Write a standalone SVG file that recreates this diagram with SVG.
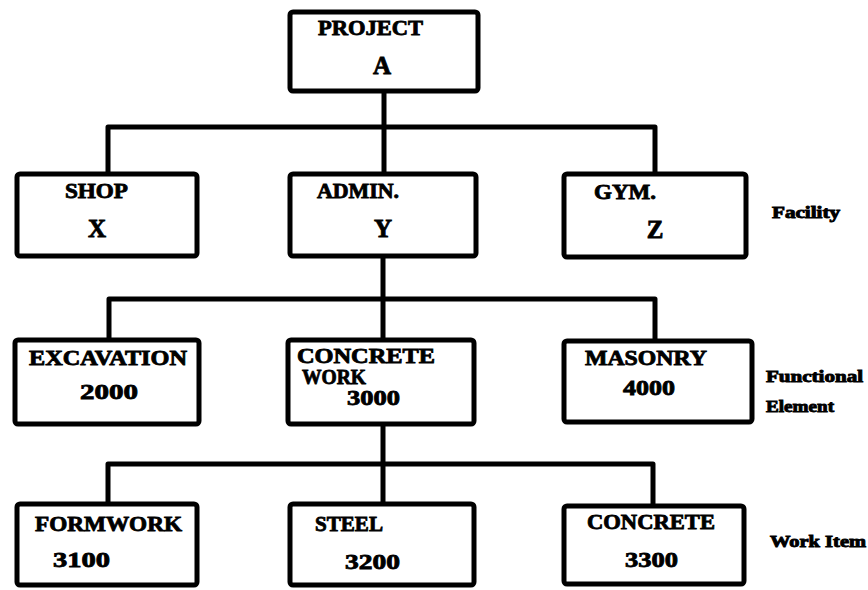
<svg xmlns="http://www.w3.org/2000/svg" width="868" height="590" viewBox="0 0 868 590">
<style>
.box{fill:#fff;stroke:#000;stroke-width:5;stroke-linejoin:round}
.ln{fill:none;stroke:#000;stroke-width:5;stroke-linejoin:round;stroke-linecap:square}
text{font-family:"Liberation Serif","Times New Roman",serif;font-weight:bold;fill:#000;stroke:#000;stroke-width:0.8;font-size:20px}
.big{font-size:25px}
.num{font-size:21px}
.side{font-size:16px;stroke-width:0.9}
</style>
<rect width="868" height="590" fill="#fff"/>
<g id="connectors">
<path class="ln" d="M384,91 V127 M108,174 V127 H655 V174 M384,127 V174"/>
<path class="ln" d="M383,256 V299 M109,340 V299 H655 V341 M383,299 V340"/>
<path class="ln" d="M383,424 V464 M108,504 V464 H653 V506 M383,464 V504"/>
</g>
<g id="project"><rect class="box" x="290" y="12" width="188" height="79" rx="3"/>
<text x="318" y="35" textLength="105" lengthAdjust="spacingAndGlyphs">PROJECT</text>
<text class="big" x="382" y="74" text-anchor="middle">A</text></g>
<g id="shop"><rect class="box" x="17" y="174" width="180" height="82" rx="3"/>
<text x="65" y="198" textLength="63" lengthAdjust="spacingAndGlyphs">SHOP</text>
<text class="big" x="97" y="237" text-anchor="middle">X</text></g>
<g id="admin"><rect class="box" x="290" y="174" width="186" height="82" rx="3"/>
<text x="317" y="198" textLength="82" lengthAdjust="spacingAndGlyphs">ADMIN.</text>
<text class="big" x="383" y="237" text-anchor="middle">Y</text></g>
<g id="gym"><rect class="box" x="564" y="174" width="182" height="83" rx="3"/>
<text x="594" y="199" textLength="62" lengthAdjust="spacingAndGlyphs">GYM.</text>
<text class="big" x="655" y="238" text-anchor="middle">Z</text></g>
<g id="excavation"><rect class="box" x="15" y="340" width="184" height="84" rx="3"/>
<text x="29" y="365" textLength="158" lengthAdjust="spacingAndGlyphs">EXCAVATION</text>
<text class="num" x="80" y="399" textLength="58" lengthAdjust="spacingAndGlyphs">2000</text></g>
<g id="concretework"><rect class="box" x="288" y="340" width="186" height="84" rx="3"/>
<text x="297" y="363" textLength="138" lengthAdjust="spacingAndGlyphs">CONCRETE</text>
<text x="302" y="384" textLength="64" lengthAdjust="spacingAndGlyphs">WORK</text>
<text class="num" x="347" y="405" textLength="53" lengthAdjust="spacingAndGlyphs">3000</text></g>
<g id="masonry"><rect class="box" x="564" y="341" width="188" height="81" rx="3"/>
<text x="585" y="365" textLength="122" lengthAdjust="spacingAndGlyphs">MASONRY</text>
<text class="num" x="623" y="395" textLength="52" lengthAdjust="spacingAndGlyphs">4000</text></g>
<g id="formwork"><rect class="box" x="17" y="504" width="180" height="81" rx="3"/>
<text x="35" y="531" textLength="147" lengthAdjust="spacingAndGlyphs">FORMWORK</text>
<text class="num" x="53" y="567" textLength="57" lengthAdjust="spacingAndGlyphs">3100</text></g>
<g id="steel"><rect class="box" x="290" y="504" width="184" height="81" rx="3"/>
<text x="315" y="531" textLength="68" lengthAdjust="spacingAndGlyphs">STEEL</text>
<text class="num" x="345" y="569" textLength="55" lengthAdjust="spacingAndGlyphs">3200</text></g>
<g id="concrete"><rect class="box" x="564" y="506" width="180" height="78" rx="3"/>
<text x="587" y="529" textLength="128" lengthAdjust="spacingAndGlyphs">CONCRETE</text>
<text class="num" x="625" y="567" textLength="53" lengthAdjust="spacingAndGlyphs">3300</text></g>
<g id="labels">
<text class="side" x="772" y="218" textLength="68" lengthAdjust="spacingAndGlyphs">Facility</text>
<text class="side" x="766" y="382" textLength="97" lengthAdjust="spacingAndGlyphs">Functional</text>
<text class="side" x="766" y="412" textLength="68" lengthAdjust="spacingAndGlyphs">Element</text>
<text class="side" x="770" y="547" textLength="96" lengthAdjust="spacingAndGlyphs">Work Item</text>
</g>
</svg>
